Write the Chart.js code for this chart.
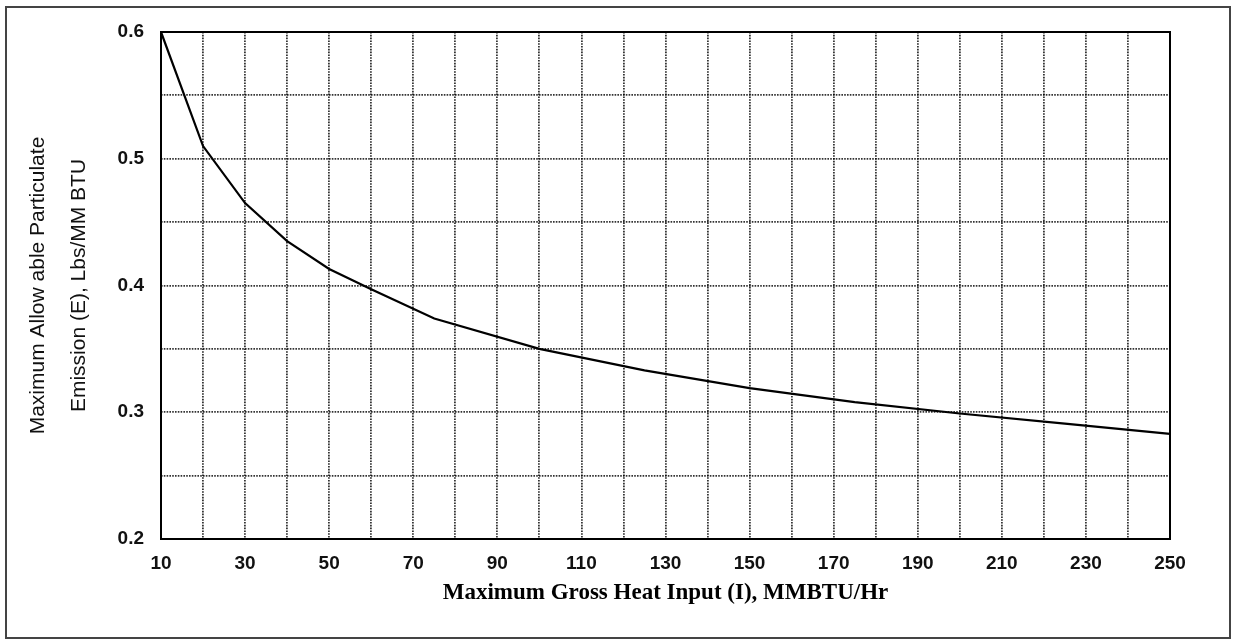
<!DOCTYPE html>
<html>
<head>
<meta charset="utf-8">
<script src="https://cdn.jsdelivr.net/npm/chart.js@4"></script>
<style>
  html, body { margin: 0; padding: 0; background: #fff; }
  #wrap { width: 1233px; height: 641px; position: relative; }
</style>
</head>
<body>
<div id="wrap"><canvas id="c"></canvas></div>
<script>
// Heat input (I), MMBTU/Hr
const heatInput = [10, 20, 30, 40, 50, 60, 75, 100, 125, 150, 175, 200, 225, 250];
// Maximum allowable particulate emission (E), Lbs/MM BTU
const emission = [0.600, 0.510, 0.465, 0.435, 0.413, 0.397, 0.374, 0.350, 0.333, 0.319, 0.308, 0.299, 0.291, 0.283];

const xTitle = 'Maximum Gross Heat Input (I), MMBTU/Hr';
const yTitle = ['Maximum Allow able Particulate', 'Emission (E), Lbs/MM BTU'];
const xRange = [10, 250];
const yRange = [0.2, 0.6];

const framePlugin = {
  id: 'frames',
  beforeDraw(chart) {
    const ctx = chart.ctx;
    ctx.save();
    ctx.fillStyle = '#fff';
    ctx.fillRect(0, 0, chart.width, chart.height);
    ctx.strokeStyle = '#444';
    ctx.lineWidth = 2;
    ctx.strokeRect(6, 7, 1224, 631);
    ctx.restore();
  },
  afterDatasetsDraw(chart) {
    const a = chart.chartArea;
    const ctx = chart.ctx;
    ctx.save();
    ctx.strokeStyle = '#000';
    ctx.lineWidth = 2;
    ctx.strokeRect(a.left, a.top, a.right - a.left, a.bottom - a.top);
    ctx.restore();
  }
};

const gridStyle = {
  color: 'rgba(0,0,0,0.8)',
  lineWidth: 1.8,
  drawTicks: false
};
const tickFont = { family: 'Liberation Sans, Arial, sans-serif', size: 19, weight: 'bold' };

new Chart(document.getElementById('c'), {
  type: 'line',
  data: {
    datasets: [{
      data: heatInput.map((x, i) => ({ x: x, y: emission[i] })),
      borderColor: '#000',
      borderWidth: 2.2,
      pointRadius: 0,
      tension: 0,
      fill: false,
      clip: false
    }]
  },
  options: {
    responsive: true,
    maintainAspectRatio: false,
    devicePixelRatio: 1,
    animation: false,
    layout: { padding: { left: 18, top: 32, right: 63, bottom: 0 } },
    plugins: { legend: { display: false }, tooltip: { enabled: false } },
    scales: {
      x: {
        type: 'linear',
        min: xRange[0], max: xRange[1],
        afterFit(s) { s.height = 102; },
        grid: Object.assign({}, gridStyle),
        border: { display: false, dash: [1.6, 1.2] },
        ticks: {
          stepSize: 10,
          padding: 13,
          color: '#111',
          font: tickFont,
          maxRotation: 0,
          autoSkip: false,
          callback: (v) => ((v - 10) % 20 === 0 ? String(v) : '')
        },
        title: {
          display: true,
          text: xTitle,
          color: '#000',
          font: { family: 'Liberation Serif, Times New Roman, serif', size: 23, weight: 'bold', lineHeight: 1.2 },
          padding: { top: 0, bottom: 34 }
        }
      },
      y: {
        type: 'linear',
        min: yRange[0], max: yRange[1],
        afterFit(s) { s.width = 143; },
        grid: Object.assign({}, gridStyle),
        border: { display: false, dash: [1.6, 1.2] },
        ticks: {
          stepSize: 0.05,
          padding: 17,
          color: '#111',
          font: tickFont,
          autoSkip: false,
          callback: (v) => (Math.abs(v * 10 - Math.round(v * 10)) < 1e-6 ? v.toFixed(1) : '')
        },
        title: {
          display: true,
          text: yTitle,
          color: '#111',
          font: { family: 'Liberation Sans, Arial, sans-serif', size: 21, lineHeight: 1.95 },
          padding: { top: 0, bottom: 0 }
        }
      }
    }
  },
  plugins: [framePlugin]
});
</script>
</body>
</html>
